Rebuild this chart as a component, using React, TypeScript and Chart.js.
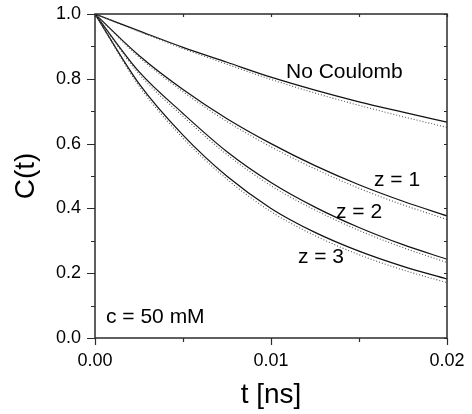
import React, { useEffect, useRef } from "react";
import { Chart, registerables } from "chart.js";

Chart.register(...registerables);

// time points [ns]
const times = [0, 0.0025, 0.005, 0.0075, 0.01, 0.0125, 0.015, 0.0175, 0.02];

// solid curves
const noCoulombSolid = [1, 0.948, 0.897, 0.851, 0.805, 0.765, 0.729, 0.697, 0.666];
const z1Solid = [1, 0.872, 0.767, 0.677, 0.6, 0.532, 0.473, 0.422, 0.377];
const z2Solid = [1, 0.822, 0.693, 0.575, 0.48, 0.404, 0.341, 0.288, 0.243];
const z3Solid = [1, 0.785, 0.626, 0.499, 0.4, 0.326, 0.268, 0.221, 0.182];

// dotted curves
const noCoulombDotted = [1, 0.946, 0.893, 0.845, 0.798, 0.756, 0.718, 0.683, 0.65];
const z1Dotted = [1, 0.867, 0.76, 0.668, 0.59, 0.522, 0.462, 0.411, 0.366];
const z2Dotted = [1, 0.815, 0.684, 0.566, 0.47, 0.395, 0.332, 0.279, 0.233];
const z3Dotted = [1, 0.778, 0.617, 0.49, 0.39, 0.316, 0.257, 0.21, 0.171];

// tick labels
const xTickValues = [0, 0.01, 0.02];
const yTickValues = [0, 0.2, 0.4, 0.6, 0.8, 1.0];

// annotation texts
const annotationTexts = ["No Coulomb", "z = 1", "z = 2", "z = 3", "c = 50 mM"];

const FONT = "'Liberation Sans', Arial, Helvetica, sans-serif";

const annotationAnchors = [
  { t: 0.01085, c: 0.821 },
  { t: 0.01585, c: 0.488 },
  { t: 0.01369, c: 0.389 },
  { t: 0.01153, c: 0.25 },
  { t: 0.000625, c: 0.065 },
];

const toPoints = (ys: number[]) => times.map((t, i) => ({ x: t, y: ys[i] }));

const framePlugin = {
  id: "frameAndTicks",
  afterDatasetsDraw(chart: any) {
    const ctx = chart.ctx as CanvasRenderingContext2D;
    const { left, right, top, bottom } = chart.chartArea;
    const xs = chart.scales.x;
    const ys = chart.scales.y;
    ctx.save();
    ctx.strokeStyle = "#2b2b2b";
    ctx.lineWidth = 1.5;
    ctx.strokeRect(left, top, right - left, bottom - top);
    ctx.lineWidth = 1.2;
    ctx.beginPath();
    // y ticks (left outward, right inward)
    for (let i = 0; i <= 10; i++) {
      const v = i / 10;
      const py = Math.round(ys.getPixelForValue(v)) + 0.5;
      const major = i % 2 === 0;
      const len = major ? 8 : 4;
      ctx.moveTo(left - len, py);
      ctx.lineTo(left, py);
      ctx.moveTo(right, py);
      ctx.lineTo(right - 3, py);
    }
    // x ticks (bottom outward, top inward)
    for (let i = 0; i <= 4; i++) {
      const v = (i * 0.02) / 4;
      const px = Math.round(xs.getPixelForValue(v)) + 0.5;
      const major = i % 2 === 0;
      const len = major ? 7 : 4;
      ctx.moveTo(px, bottom);
      ctx.lineTo(px, bottom + len);
      ctx.moveTo(px, top);
      ctx.lineTo(px, top + 3);
    }
    ctx.stroke();

    // annotations
    ctx.fillStyle = "#000";
    ctx.font = `21px ${FONT}`;
    ctx.textAlign = "left";
    ctx.textBaseline = "middle";
    annotationTexts.forEach((txt, i) => {
      const a = annotationAnchors[i];
      ctx.fillText(txt, xs.getPixelForValue(a.t), ys.getPixelForValue(a.c));
    });
    ctx.restore();
  },
};

export default function App() {
  const ref = useRef<HTMLCanvasElement | null>(null);

  useEffect(() => {
    if (!ref.current) return;
    const solid = { borderColor: "#111", borderWidth: 1.2, pointRadius: 0, fill: false, cubicInterpolationMode: "monotone" as const };
    const dotted = { borderColor: "#555", borderWidth: 1.1, borderDash: [1, 2], pointRadius: 0, fill: false, cubicInterpolationMode: "monotone" as const };
    const chart = new Chart(ref.current, {
      type: "line",
      data: {
        datasets: [
          { label: "No Coulomb (dotted)", data: toPoints(noCoulombDotted), ...dotted },
          { label: "z = 1 (dotted)", data: toPoints(z1Dotted), ...dotted },
          { label: "z = 2 (dotted)", data: toPoints(z2Dotted), ...dotted },
          { label: "z = 3 (dotted)", data: toPoints(z3Dotted), ...dotted },
          { label: "No Coulomb", data: toPoints(noCoulombSolid), ...solid },
          { label: "z = 1", data: toPoints(z1Solid), ...solid },
          { label: "z = 2", data: toPoints(z2Solid), ...solid },
          { label: "z = 3", data: toPoints(z3Solid), ...solid },
        ],
      },
      options: {
        animation: false,
        responsive: false,
        layout: { padding: { top: 14, right: 25, left: 0, bottom: 0 } },
        plugins: { legend: { display: false }, tooltip: { enabled: false } },
        scales: {
          x: {
            type: "linear",
            min: 0,
            max: 0.02,
            grid: { display: false, drawTicks: false },
            border: { display: false },
            afterBuildTicks: (s: any) => {
              s.ticks = xTickValues.map((v) => ({ value: v }));
            },
            afterFit: (s: any) => {
              s.height = 76;
              s.paddingLeft = 0;
              s.paddingRight = 0;
            },
            ticks: {
              padding: 12,
              color: "#000",
              font: { family: FONT, size: 18 },
              maxRotation: 0,
              callback: (v: any) => Number(v).toFixed(2),
            },
            title: {
              display: true,
              text: "t [ns]",
              color: "#000",
              font: { family: FONT, size: 28 },
              padding: { top: 0, bottom: 2 },
            },
          },
          y: {
            min: 0,
            max: 1,
            grid: { display: false, drawTicks: false },
            border: { display: false },
            afterBuildTicks: (s: any) => {
              s.ticks = yTickValues.map((v) => ({ value: v }));
            },
            afterFit: (s: any) => {
              s.width = 95;
              s.paddingTop = 0;
              s.paddingBottom = 0;
            },
            ticks: {
              padding: 14,
              color: "#000",
              font: { family: FONT, size: 18 },
              callback: (v: any) => Number(v).toFixed(1),
            },
            title: {
              display: true,
              text: "C(t)",
              color: "#000",
              font: { family: FONT, size: 28 },
              padding: { top: 9, bottom: 0 },
            },
          },
        },
      },
      plugins: [framePlugin],
    });
    return () => chart.destroy();
  }, []);

  return (
    <div style={{ position: "fixed", left: 0, top: 0, width: 472, height: 414, background: "#fff" }}>
      <canvas ref={ref} width={472} height={414} />
    </div>
  );
}
